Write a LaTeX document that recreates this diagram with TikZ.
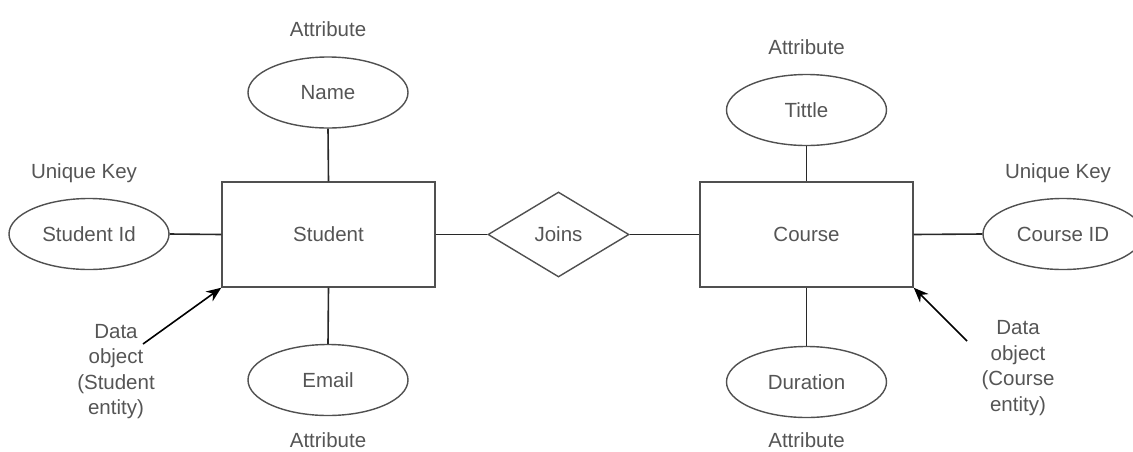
\documentclass[tikz,border=0pt]{standalone}
\usepackage{fontspec}
\setmainfont{Liberation Sans}
\usetikzlibrary{shapes.geometric,arrows.meta}
\definecolor{txt}{RGB}{85,85,85}
\definecolor{edge}{RGB}{80,80,80}
\definecolor{wire}{RGB}{40,40,40}
\begin{document}
\begin{tikzpicture}[x=1pt,y=-1pt,
  every node/.style={font=\fontsize{20.5}{25.5}\selectfont, text=txt},
  attr/.style={ellipse, draw=edge, line width=1.4pt, minimum width=160pt, minimum height=71pt, inner sep=0pt},
  entity/.style={rectangle, draw=edge, line width=1.4pt, minimum width=213pt, minimum height=105pt, inner sep=0pt},
  relation/.style={diamond, draw=edge, line width=1.4pt, minimum width=141pt, minimum height=85pt, inner sep=0pt},
  tag/.style={inner sep=0pt},
  note/.style={align=center, inner sep=0pt},
  link/.style={draw=wire, line width=1.6pt},
  pointer/.style={draw=black, line width=1.6pt, -{Stealth[length=15pt,width=12pt]}}
]
\useasboundingbox (0,0) rectangle (1133,451);
\clip (0,0) rectangle (1133,451);

% entities and relationship
\node[entity] (student) at (328.5,234.5) {Student};
\node[entity] (course) at (806.5,234.5) {Course};
\node[relation] (joins) at (558.5,234.5) {Joins};

% attributes
\node[attr] (sid) at (89,234) {Student Id};
\node[attr] (name) at (328,92.5) {Name};
\node[attr] (email) at (328,380) {Email};
\node[attr] (title) at (806.5,110) {Tittle};
\node[attr] (cid) at (1063,234) {Course ID};
\node[attr] (dur) at (806.5,382) {Duration};

% captions
\node[tag] (keyl) at (84,173) {Unique Key};
\node[tag] (keyr) at (1058,173) {Unique Key};
\node[tag] (capname) at (328,29) {Attribute};
\node[tag] (captitle) at (806.5,47) {Attribute};
\node[tag] (capemail) at (328,440) {Attribute};
\node[tag] (capdur) at (806.5,440.5) {Attribute};
\node[note] (noteS) at (116,371.5) {Data\\object\\(Student\\entity)};
\node[note] (noteC) at (1018,368) {Data\\object\\(Course\\entity)};

% connectors
\draw[link] (sid.east) -- (student.west);
\draw[link] (name.south) -- (student.north);
\draw[link] (student.south) -- (email.north);
\draw[link] (student.east) -- (joins.west);
\draw[link] (joins.east) -- (course.west);
\draw[link] (title.south) -- (course.north);
\draw[link] (course.east) -- (cid.west);
\draw[link] (course.south) -- (dur.north);

% pointers to the entities
\coordinate (tailS) at (143,344);
\coordinate (tailC) at (967,341);
\draw[pointer] (tailS) -- (student.south west);
\draw[pointer] (tailC) -- (course.south east);
\end{tikzpicture}
\end{document}
